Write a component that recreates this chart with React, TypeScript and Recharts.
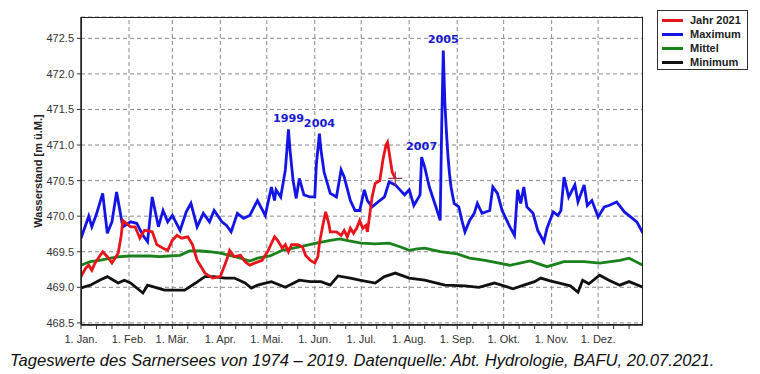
import React from 'react'
import {
  LineChart, Line, XAxis, YAxis, CartesianGrid, ReferenceLine, ReferenceDot,
} from 'recharts'

// Tag im Jahr (0 = 1. Jan.)
const monthStarts = [0, 31, 59, 90, 120, 151, 181, 212, 243, 273, 304, 334]
const monthLabels = ['1. Jan.', '1. Feb.', '1. Mär.', '1. Apr.', '1. Mai.', '1. Jun.', '1. Jul.', '1. Aug.', '1. Sep.', '1. Okt.', '1. Nov.', '1. Dez.']
const decadeTicks = monthStarts.flatMap(d => [d, d + 10, d + 20]).filter(d => d <= 363)
const yTicks = [468.5, 469.0, 469.5, 470.0, 470.5, 471.0, 471.5, 472.0, 472.5]

const maxDays = [
  0, 5, 7, 10, 14, 17, 20, 23, 27, 32, 36, 40, 43, 46, 50, 53, 56, 59, 64, 68,
  71, 75, 79, 83, 86, 91, 94, 97, 101, 105, 109, 114, 119, 123, 125, 126, 129, 132, 134, 135,
  137, 139, 141, 144, 148, 151, 152, 154, 155, 157, 161, 165, 168, 170, 174, 177, 180, 183, 185, 188,
  193, 196, 199, 203, 206, 209, 212, 215, 219, 220, 222, 225, 230, 232, 233, 234, 235, 236, 237, 238,
  239, 241, 244, 246, 248, 251, 254, 256, 259, 264, 266, 269, 272, 277, 280, 282, 284, 286, 288, 292,
  295, 299, 301, 305, 308, 310, 312, 315, 319, 321, 325, 327, 330, 334, 338, 341, 346, 351, 355, 359, 363,
]
const maxValues = [
  469.69, 470.0, 469.85, 470.03, 470.32, 469.76, 469.92, 470.34, 469.85, 469.92, 469.9, 469.73, 469.64, 470.27, 469.85, 470.08, 469.92, 470.01, 469.8, 470.06,
  470.18, 469.85, 470.04, 469.92, 470.08, 469.92, 469.87, 469.78, 470.04, 469.97, 470.01, 470.22, 470.01, 470.41, 470.22, 470.37, 470.27, 470.65, 471.22, 470.93,
  470.5, 470.25, 470.53, 470.3, 470.27, 470.27, 470.72, 471.16, 470.93, 470.62, 470.32, 470.27, 470.65, 470.55, 470.22, 470.08, 470.08, 470.37, 470.22, 470.13,
  470.22, 470.27, 470.48, 470.44, 470.37, 470.3, 470.37, 470.15, 470.3, 470.83, 470.69, 470.41, 470.08, 469.94, 471.3, 472.33, 471.6, 471.2, 470.85, 470.6,
  470.41, 470.18, 470.13, 469.94, 469.78, 469.94, 470.04, 470.18, 470.04, 470.08, 470.41, 470.32, 470.08, 469.85, 469.73, 470.37, 470.18, 470.41, 470.13, 470.04,
  469.8, 469.64, 469.83, 470.06, 470.01, 470.08, 470.55, 470.27, 470.44, 470.2, 470.44, 470.15, 470.22, 469.99, 470.13, 470.15, 470.2, 470.06, 469.99, 469.92, 469.76,
]

const yearDays = [
  0, 3, 5, 7, 9, 14, 17, 20, 24, 26, 27, 32, 35, 38, 41, 46, 49, 53, 56, 59,
  62, 65, 69, 72, 75, 80, 85, 90, 94, 96, 99, 103, 106, 109, 112, 117, 121, 122, 125, 127,
  130, 132, 134, 136, 140, 143, 145, 148, 151, 153, 154, 156, 158, 160, 161, 165, 168, 170, 172, 174,
  176, 178, 180, 182, 184, 185, 186, 188, 190, 193, 195, 197, 198, 199, 201, 203,
]
const yearValues = [
  469.15, 469.27, 469.31, 469.24, 469.34, 469.5, 469.43, 469.34, 469.48, 469.73, 469.94, 469.85, 469.85, 469.69, 469.8, 469.78, 469.6, 469.55, 469.52, 469.66,
  469.73, 469.69, 469.71, 469.6, 469.38, 469.2, 469.13, 469.15, 469.38, 469.52, 469.43, 469.45, 469.36, 469.31, 469.34, 469.38, 469.52, 469.57, 469.71, 469.66,
  469.55, 469.6, 469.5, 469.6, 469.6, 469.57, 469.45, 469.38, 469.34, 469.43, 469.62, 469.85, 470.06, 469.9, 469.78, 469.78, 469.73, 469.8, 469.71, 469.83,
  469.76, 469.83, 469.94, 469.83, 469.87, 469.78, 469.94, 470.27, 470.46, 470.5, 470.79, 471.0, 471.04, 470.9, 470.62, 470.53,
]

const meanDays = [
  0, 6, 12, 19, 25, 32, 38, 45, 51, 57, 64, 70, 77, 83, 90, 96, 103, 109, 114, 122,
  130, 141, 152, 161, 167, 174, 181, 190, 199, 206, 212, 217, 222, 232, 243, 251, 261, 270, 277, 290,
  301, 312, 325, 335, 348, 354, 363,
]
const meanValues = [
  469.31, 469.36, 469.38, 469.41, 469.43, 469.44, 469.44, 469.44, 469.43, 469.44, 469.45, 469.51, 469.51, 469.5, 469.48, 469.45, 469.41, 469.37, 469.41, 469.44,
  469.52, 469.57, 469.62, 469.66, 469.68, 469.65, 469.62, 469.61, 469.62, 469.57, 469.52, 469.54, 469.55, 469.5, 469.47, 469.41, 469.38, 469.34, 469.31, 469.37,
  469.29, 469.36, 469.36, 469.34, 469.38, 469.41, 469.31,
]

const minDays = [
  0, 6, 12, 17, 21, 24, 28, 32, 36, 40, 43, 48, 54, 61, 67, 74, 80, 86, 93, 99,
  106, 110, 114, 123, 132, 141, 148, 155, 161, 166, 174, 180, 190, 196, 203, 212, 222, 235, 248, 257,
  267, 279, 286, 293, 297, 303, 309, 316, 321, 324, 328, 335, 341, 348, 354, 363,
]
const minValues = [
  468.99, 469.03, 469.1, 469.15, 469.1, 469.06, 469.1, 469.06, 468.99, 468.92, 469.03, 469.0, 468.96, 468.96, 468.96, 469.06, 469.15, 469.15, 469.13, 469.13,
  469.06, 468.99, 469.03, 469.08, 469.0, 469.1, 469.08, 469.08, 469.03, 469.16, 469.13, 469.1, 469.06, 469.15, 469.2, 469.13, 469.1, 469.03, 469.02, 469.0,
  469.06, 468.98, 469.03, 469.08, 469.13, 469.09, 469.06, 469.02, 468.93, 469.1, 469.05, 469.17, 469.1, 469.03, 469.08, 469.0,
]

const peakLabels = [
  { day: 134, value: 471.22, text: '1999' },
  { day: 154, value: 471.16, text: '2004' },
  { day: 220, value: 470.83, text: '2007' },
  { day: 234, value: 472.33, text: '2005' },
]

const series = [
  { name: 'Jahr 2021', color: '#e8141c' },
  { name: 'Maximum', color: '#1414e6' },
  { name: 'Mittel', color: '#1a821a' },
  { name: 'Minimum', color: '#111111' },
]

const toPoints = (days: number[], values: number[]) =>
  days.map((d, i) => ({ day: d, value: values[i] }))

const FONT = 'Arial, "Liberation Sans", sans-serif'

function MonthTick({ x, y, payload }: { x?: number; y?: number; payload?: { value: number } }) {
  const i = monthStarts.indexOf(payload?.value ?? -1)
  if (i < 0) return <g />
  return (
    <text x={x} y={y} dy="0.71em" textAnchor="middle" fontSize={11} fill="#333" fontFamily={FONT}>
      {monthLabels[i]}
    </text>
  )
}

function LegendBox() {
  return (
    <div style={{
      position: 'absolute', left: 657, top: 10, width: 89, height: 58,
      border: '1.5px solid #333', background: '#fff', fontFamily: FONT,
    }}>
      {series.map((s, i) => (
        <div key={s.name} style={{ position: 'absolute', left: 4, top: 2 + i * 14, height: 14, display: 'flex', alignItems: 'center' }}>
          <div style={{ width: 21, height: 3, background: s.color, marginRight: 7 }} />
          <span style={{ fontSize: 11, fontWeight: 'bold', color: '#222' }}>{s.name}</span>
        </div>
      ))}
    </div>
  )
}

export default function App() {
  const yearPoints = toPoints(yearDays, yearValues)
  const lastYear = yearPoints.length - 1
  return (
    <div style={{ position: 'absolute', left: 0, top: 0, width: 760, height: 374, background: '#fff' }}>
      <LineChart width={760} height={374} margin={{ top: 17, right: 117, bottom: 27, left: 21 }}>
        <CartesianGrid vertical={false} stroke="#8a8a8a" strokeDasharray="4 3" />
        {monthStarts.slice(1).map(d => (
          <ReferenceLine key={d} x={d} stroke="#8a8a8a" strokeDasharray="4 3" />
        ))}
        <XAxis
          dataKey="day"
          type="number"
          domain={[0, 363]}
          ticks={decadeTicks}
          interval={0}
          tick={<MonthTick />}
          tickSize={4}
          tickMargin={6}
          tickLine={{ stroke: '#333' }}
          axisLine={{ stroke: '#222', strokeWidth: 1.5 }}
          height={22}
          allowDataOverflow
        />
        <YAxis
          type="number"
          domain={[468.47, 472.8]}
          ticks={yTicks}
          tickFormatter={v => v.toFixed(1)}
          tick={{ fill: '#333', fontSize: 11, fontFamily: FONT }}
          tickSize={4}
          tickMargin={3}
          tickLine={{ stroke: '#333' }}
          axisLine={{ stroke: '#222', strokeWidth: 1.5 }}
          width={60}
          allowDataOverflow
          label={{
            value: 'Wasserstand [m ü.M.]', angle: -90, position: 'center', dx: -13,
            style: { fontSize: 11, fontWeight: 'bold', fill: '#222', fontFamily: FONT },
          }}
        />
        <Line data={toPoints(minDays, minValues)} dataKey="value" stroke={series[3].color}
          strokeWidth={2.8} dot={false} isAnimationActive={false} />
        <Line data={toPoints(meanDays, meanValues)} dataKey="value" stroke={series[2].color}
          strokeWidth={2.8} dot={false} isAnimationActive={false} />
        <Line data={toPoints(maxDays, maxValues)} dataKey="value" stroke={series[1].color}
          strokeWidth={2.8} dot={false} isAnimationActive={false} />
        <Line
          data={yearPoints}
          dataKey="value"
          stroke={series[0].color}
          strokeWidth={2.8}
          isAnimationActive={false}
          dot={({ cx, cy, index }: { cx: number; cy: number; index: number }) =>
            index === lastYear ? (
              <path key="cross" d={`M${cx - 7},${cy}H${cx + 7}M${cx},${cy - 7}V${cy + 7}`}
                stroke="#9a3050" strokeWidth={1.2} fill="none" />
            ) : <g key={`d${index}`} />}
        />
        {peakLabels.map(p => (
          <ReferenceDot key={p.text} x={p.day} y={p.value} r={0} stroke="none"
            label={{
              value: p.text, position: 'top', offset: 7,
              style: { fontSize: 11.2, fontWeight: 'bold', fill: '#1a1ad0', fontFamily: 'Verdana, "DejaVu Sans", sans-serif' },
            }}
          />
        ))}
      </LineChart>
      <div style={{
        position: 'absolute', left: 81, top: 17, width: 562, height: 308,
        border: '1.5px solid #222', boxSizing: 'border-box', pointerEvents: 'none',
      }} />
      <LegendBox />
      <div style={{
        position: 'absolute', left: 10, top: 351, fontFamily: FONT, fontStyle: 'italic',
        fontSize: 16.6, color: '#111', whiteSpace: 'nowrap',
      }}>
        Tageswerte des Sarnersees von 1974 – 2019. Datenquelle: Abt. Hydrologie, BAFU, 20.07.2021.
      </div>
    </div>
  )
}
